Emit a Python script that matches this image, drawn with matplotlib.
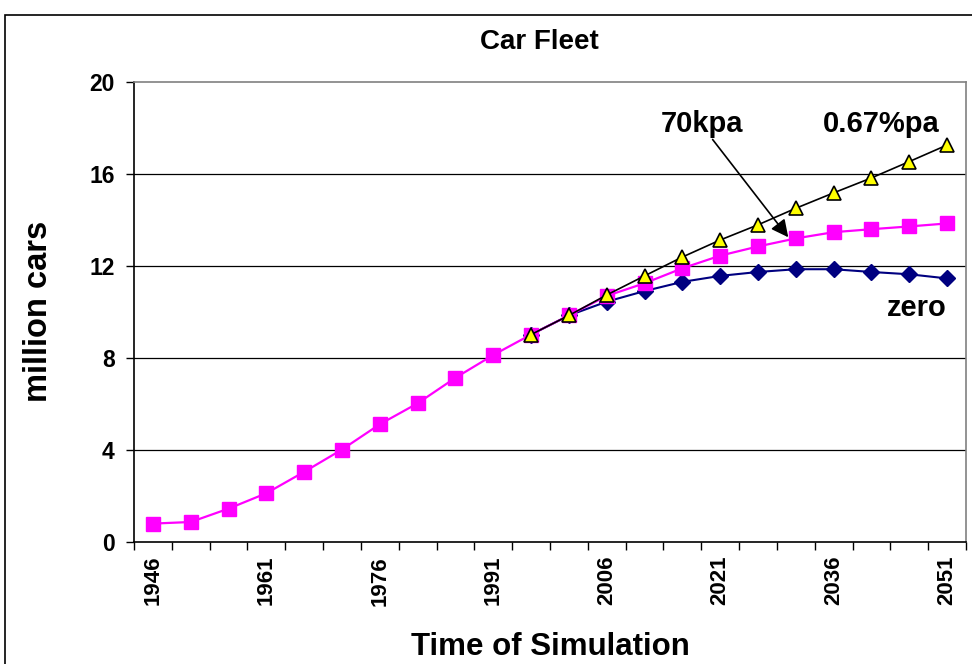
import matplotlib.pyplot as plt
from matplotlib.patches import Rectangle

plt.rcParams['font.family'] = ['Liberation Sans', 'DejaVu Sans']
plt.rcParams['font.weight'] = 'bold'

years = list(range(1946, 2052, 5))
label_years = [1946, 1961, 1976, 1991, 2006, 2021, 2036, 2051]

# million cars, 70kpa scenario (includes history)
fleet_70kpa = [0.8, 0.87, 1.45, 2.12, 3.05, 4.02, 5.12, 6.03, 7.14, 8.13, 9.02,
               9.85, 10.7, 11.25, 11.9, 12.45, 12.85, 13.2, 13.47, 13.6, 13.72, 13.85]
# scenarios starting 1996
scen_years = years[10:]
fleet_zero = [9.02, 9.85, 10.45, 10.91, 11.31, 11.57, 11.74, 11.86, 11.86, 11.74, 11.64, 11.46]
fleet_067 = [9.02, 9.85, 10.74, 11.57, 12.39, 13.13, 13.79, 14.51, 15.18, 15.83, 16.54, 17.26]

xi = list(range(len(years)))
xs = [years.index(y) for y in scen_years]

W, H = 972, 664
fig = plt.figure(figsize=(W / 100, H / 100), dpi=100)
ax = fig.add_axes([134 / W, 1 - 542 / H, 832 / W, 460 / H])

# outer chart frame
fig.patches.append(Rectangle((5 / W, -0.05), 1.1, 1 - 15 / H + 0.05,
                             transform=fig.transFigure, fill=False,
                             edgecolor='black', linewidth=1.2, clip_on=False))

for y in [4, 8, 12, 16]:
    ax.axhline(y, color='black', linewidth=0.9, zorder=1)

ax.plot(xs, fleet_zero, color='#000080', linewidth=1.5, marker='D',
        markersize=8.5, markerfacecolor='#000080', markeredgecolor='#000080', zorder=3)
ax.plot(xi, fleet_70kpa, color='#FF00FF', linewidth=1.6, marker='s',
        markersize=9.5, markerfacecolor='#FF00FF', markeredgecolor='#FF00FF', zorder=4)
ax.plot(xs, fleet_067, color='black', linewidth=1.2, marker='^',
        markersize=10.5, markerfacecolor='#FFFF00', markeredgecolor='black',
        markeredgewidth=1.2, zorder=5)

ax.set_xlim(-0.5, len(years) - 0.5)
ax.set_ylim(0, 20)

ax.set_xticks([i - 0.5 for i in range(len(years) + 1)])
ax.set_xticklabels([])
ax.set_xticks([years.index(y) for y in label_years], minor=True)
ax.set_xticklabels([str(y) for y in label_years], minor=True, rotation=90,
                   fontsize=16, fontweight='bold')
ax.tick_params(axis='x', which='major', direction='out', length=6, width=1)
ax.tick_params(axis='x', which='minor', length=0, pad=10)

ax.set_yticks([0, 4, 8, 12, 16, 20])
ax.set_yticklabels(['0', '4', '8', '12', '16', '20'], fontsize=16.5, fontweight='bold')
ax.tick_params(axis='y', direction='out', length=6, width=1, pad=8)

for side in ['top', 'right']:
    ax.spines[side].set_color('#808080')
for side in ['left', 'bottom']:
    ax.spines[side].set_color('black')
for s in ax.spines.values():
    s.set_linewidth(1.2)

fig.text(539 / W, 1 - 49 / H, 'Car Fleet', ha='center', va='baseline',
         fontsize=20, fontweight='bold')
fig.text(39 / W, 1 - 311 / H, 'million cars', ha='center', va='center',
         rotation=90, fontsize=23.5, fontweight='bold')
fig.text(550 / W, 1 - 655 / H, 'Time of Simulation', ha='center', va='baseline',
         fontsize=22.5, fontweight='bold')

ax.text(14.52, 17.83, '70kpa', ha='center', va='baseline', fontsize=21, fontweight='bold')
ax.text(19.26, 17.83, '0.67%pa', ha='center', va='baseline', fontsize=21, fontweight='bold')
ax.text(20.21, 9.83, 'zero', ha='center', va='baseline', fontsize=21, fontweight='bold')
ax.annotate('', xy=(16.8, 13.25), xytext=(14.8, 17.5),
            arrowprops=dict(arrowstyle='-|>', color='black', linewidth=1.2,
                            mutation_scale=26, shrinkA=0, shrinkB=0))

fig.savefig('out.png', dpi=100)
